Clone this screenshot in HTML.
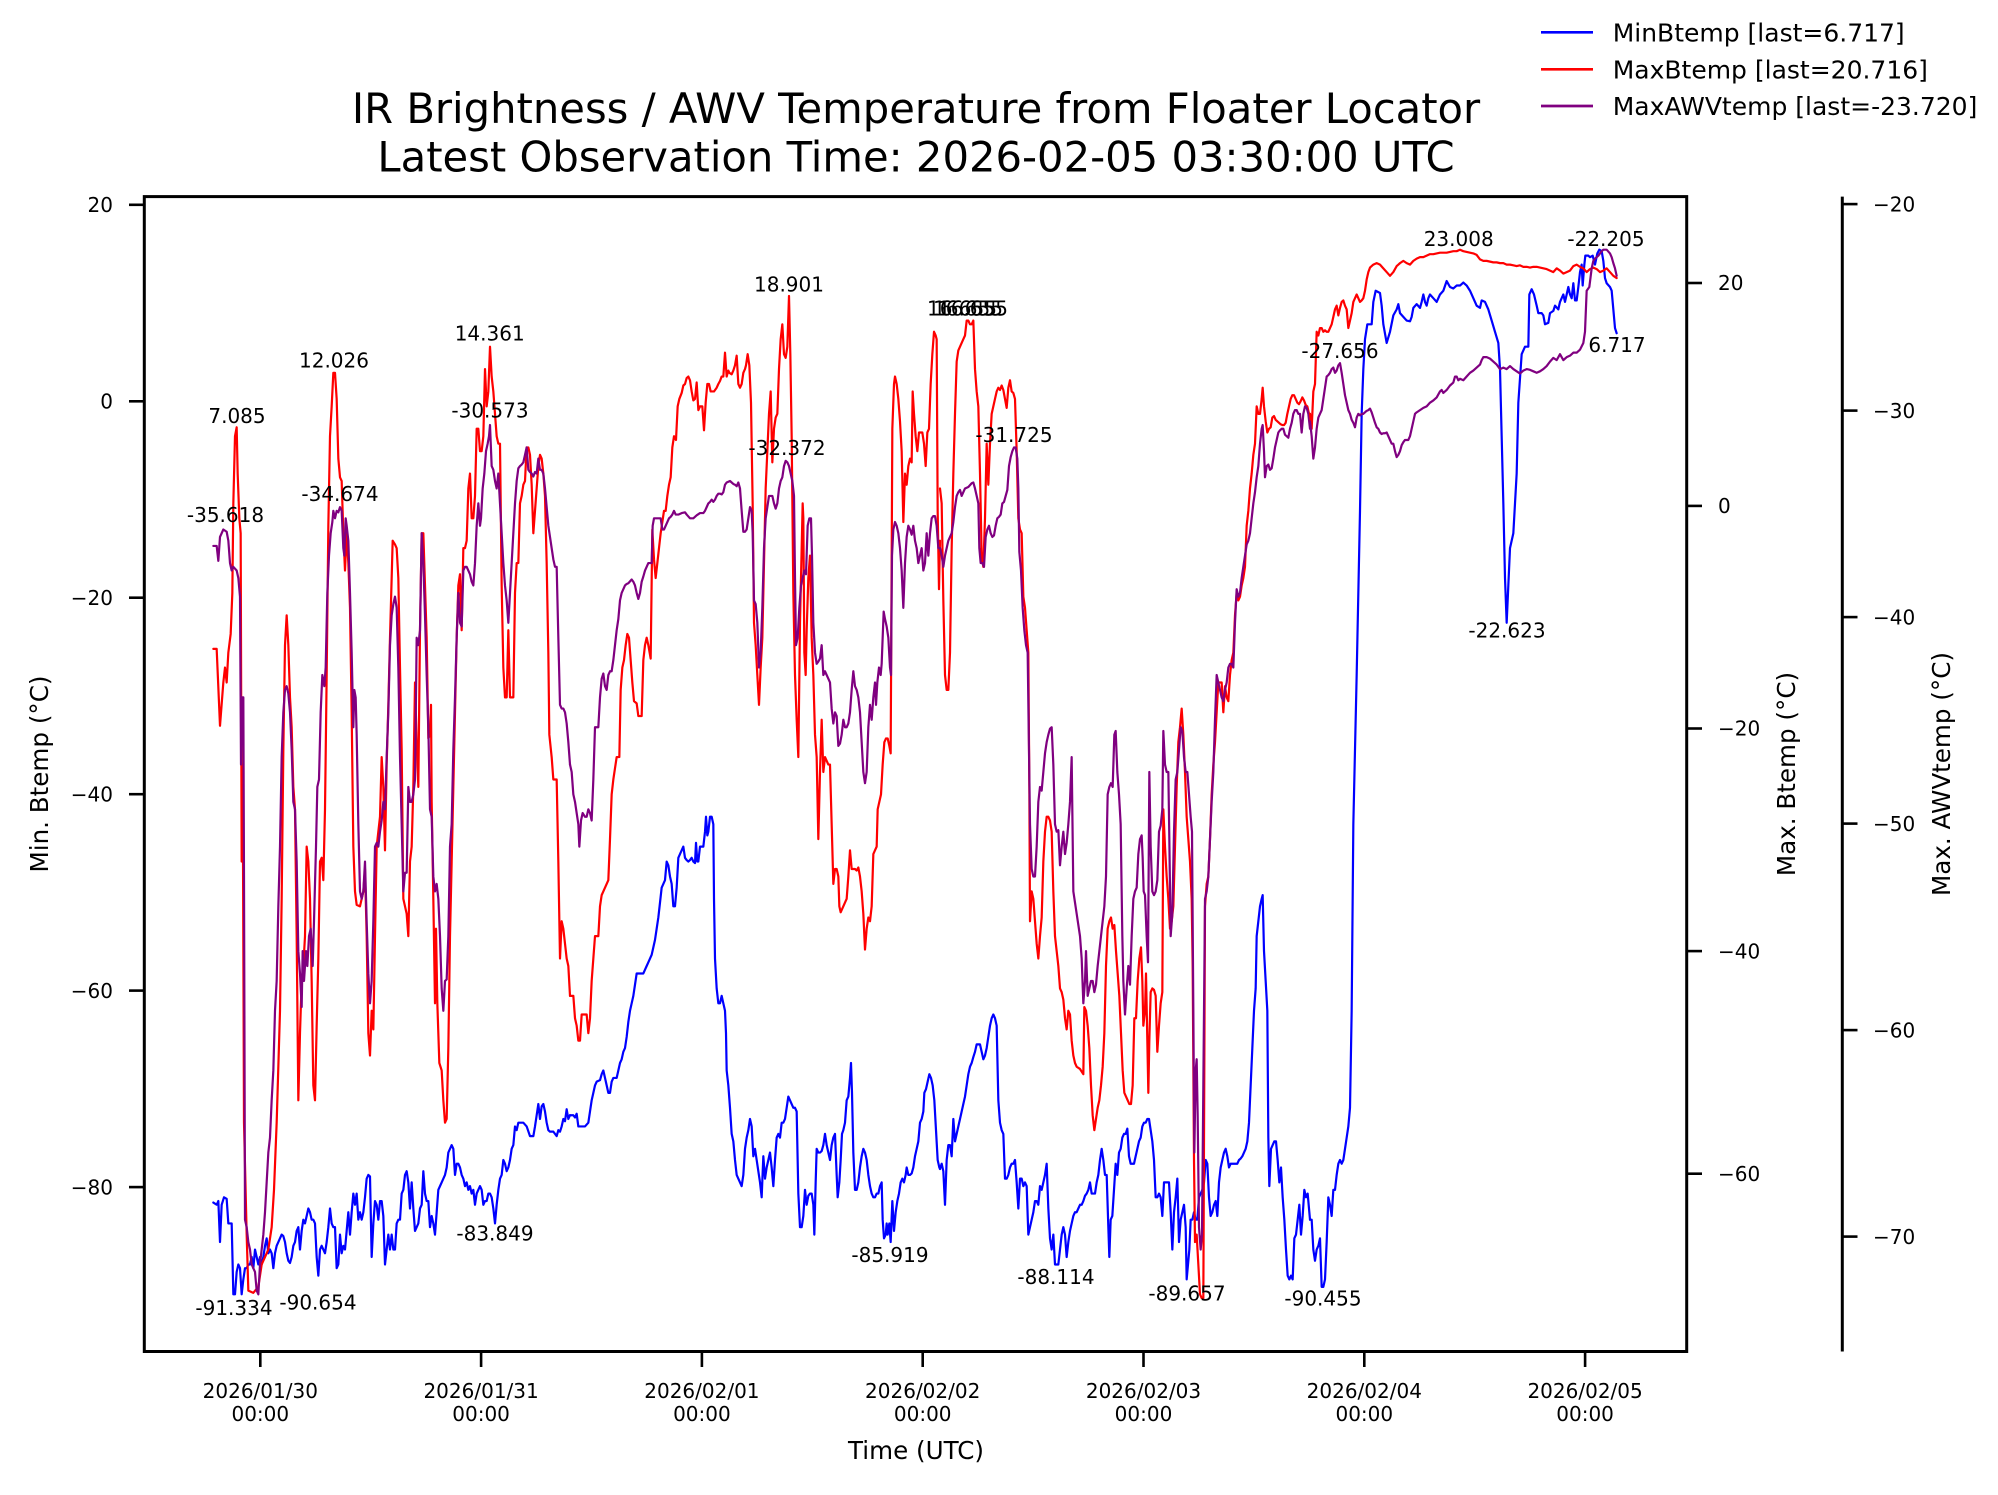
<!DOCTYPE html>
<html><head><meta charset="utf-8"><style>
html,body{margin:0;padding:0;background:#fff;}
svg{display:block;}
text{font-family:"DejaVu Sans","Liberation Sans",sans-serif;fill:#000;}
.ln{fill:none;stroke-width:2.2;stroke-linejoin:round;stroke-linecap:round;}
</style></head><body>
<svg width="1998" height="1495" viewBox="0 0 1998 1495" xmlns="http://www.w3.org/2000/svg">
<rect x="0" y="0" width="1998" height="1495" fill="#fff"/>

<!-- Title -->
<text x="916" y="123" font-size="41.7" text-anchor="middle">IR Brightness / AWV Temperature from Floater Locator</text>
<text x="916" y="171.5" font-size="41.7" text-anchor="middle">Latest Observation Time: 2026-02-05 03:30:00 UTC</text>

<!-- Legend -->
<line x1="1541" y1="32.3" x2="1593" y2="32.3" stroke="#0000ff" stroke-width="2.7"/>
<line x1="1541" y1="69.3" x2="1593" y2="69.3" stroke="#ff0000" stroke-width="2.7"/>
<line x1="1541" y1="106" x2="1593" y2="106" stroke="#800080" stroke-width="2.7"/>
<text x="1612.7" y="41.5" font-size="25">MinBtemp [last=6.717]</text>
<text x="1612.7" y="78.5" font-size="25">MaxBtemp [last=20.716]</text>
<text x="1612.7" y="115.2" font-size="25">MaxAWVtemp [last=-23.720]</text>

<!-- Data lines -->
<g class="series">
<g transform="translate(200,190) scale(0.333333,0.746157)">
<polyline class="ln" vector-effect="non-scaling-stroke" stroke="#0000ff" points="40,1357 50,1360 55,1355 60,1410 65,1360 72,1350 80,1352 85,1385 90,1385 95,1385 100,1480 105,1480 110,1450 115,1440 120,1445 125,1480 130,1460 135,1445 140,1445 145,1440 150,1440 155,1430 160,1445 165,1420 170,1430 175,1440 180,1430 185,1440 190,1430 195,1415 200,1405 205,1425 210,1420 215,1425 220,1445 225,1425 230,1415 235,1410 240,1405 245,1400 250,1402 255,1410 260,1425 265,1435 270,1438 275,1430 280,1415 285,1410 290,1395 295,1390 300,1420 305,1395 310,1380 315,1385 320,1375 325,1365 330,1370 335,1380 340,1380 345,1385 350,1430 355,1455 360,1420 365,1415 370,1420 375,1425 380,1410 385,1390 390,1365 395,1385 400,1390 405,1390 410,1445 415,1440 420,1400 425,1425 430,1415 435,1420 440,1395 445,1370 450,1400 455,1370 460,1345 465,1360 470,1345 475,1380 480,1370 485,1380 490,1370 495,1350 500,1325 505,1320 510,1322 515,1430 520,1385 525,1355 530,1360 535,1380 540,1355 545,1355 550,1375 555,1440 560,1420 565,1400 570,1420 575,1400 580,1420 585,1420 590,1385 595,1380 600,1380 605,1345 610,1340 615,1320 620,1315 625,1330 630,1365 635,1330 640,1365 645,1395 650,1390 655,1385 660,1365 665,1360 670,1315 675,1345 680,1355 685,1355 690,1390 695,1375 700,1385 705,1400 710,1370 715,1340 720,1335 725,1330 730,1325 735,1320 740,1310 745,1290 750,1285 755,1280 760,1285 765,1320 770,1305 775,1305 780,1310 785,1320 790,1325 795,1335 800,1330 805,1340 810,1335 815,1345 820,1340 825,1360 830,1345 835,1340 840,1335 845,1340 850,1360 855,1355 860,1355 865,1345 870,1345 875,1350 880,1365 885,1385 890,1360 895,1340 900,1325 905,1320 910,1300 915,1305 920,1315 925,1310 930,1300 935,1285 940,1280 945,1255 950,1260 955,1250 960,1250 970,1250 980,1255 990,1268 1000,1268 1005,1255 1010,1240 1015,1225 1020,1245 1025,1228 1030,1225 1035,1235 1040,1250 1045,1260 1050,1262 1060,1262 1065,1265 1070,1268 1075,1260 1080,1262 1085,1255 1090,1245 1095,1248 1100,1232 1105,1245 1110,1240"/>
<polyline class="ln" vector-effect="non-scaling-stroke" stroke="#ff0000" points="40,615 50,615 60,718 70,660 75,640 80,660 85,620 92,595 97,540 100,420 105,330 110,318 113,380 118,440 122,460 125,900 128,770 132,1250 140,1400 145,1475 160,1478 175,1470 185,1440 195,1430 205,1420 215,1390 222,1340 230,1250 240,1100 245,950 250,750 255,610 260,570 265,610 270,680 275,720 280,800 285,830 290,1000 295,1220 300,1130 305,1060 310,1040 315,1000 320,880 325,900 330,950 335,1060 340,1200 345,1220 350,1120 355,1030 360,900 365,895 370,925 375,830 380,650 385,450 390,330 395,290 400,245 405,245 410,280 415,360 420,385 425,390 430,460 435,510 440,460 445,500 450,560 455,700 460,880 465,940 470,958 480,960 490,940 495,910 500,1000 505,1130 510,1160 515,1100 520,1125 525,1000 530,880 540,840 545,760 550,800 555,885 560,770 565,690 570,600 575,520 578,470 585,475 590,480 595,520 600,640 605,750 610,950 615,960 620,970 625,1000 630,900 635,880 640,800 645,660 650,740 655,800 660,590 665,460 670,460 675,530 680,600 685,735 690,730 693,690 695,820 700,950 705,1090 708,990 712,1090 718,1170 725,1180 730,1220 735,1250 740,1245 745,1150 750,1000 755,900 760,800 765,700 770,600 775,530 780,515 785,590 790,480 795,480 800,470 805,400 810,380 815,440 820,440 825,410 830,320 835,320 840,350 845,350 850,330 855,240 860,290 865,270 870,210 875,250 880,270 885,300 890,330 895,340 900,340 905,530 910,640 915,680 920,680 925,590 930,680 935,680 940,680 945,540 950,500 955,500 960,420 965,410 970,395 975,390 980,345 985,345 990,355 995,395 1000,460 1005,430 1010,400 1015,370 1020,355 1025,360 1030,380 1035,410 1040,500 1045,620 1048,730 1055,760 1060,790 1070,790 1075,900 1080,1030 1085,980 1090,990 1095,1010 1100,1030 1105,1040 1110,1080"/>
<polyline class="ln" vector-effect="non-scaling-stroke" stroke="#800080" points="40,477 50,477 55,497 60,465 70,455 80,458 85,470 90,500 95,510 100,505 110,510 115,520 120,545 123,770 126,680 130,680 132,920 135,1380 140,1390 145,1410 150,1420 155,1440 160,1445 165,1450 170,1475 175,1480 180,1440 185,1420 190,1400 195,1370 200,1330 205,1290 210,1270 215,1220 220,1180 225,1100 230,1060 235,960 240,880 245,760 250,700 255,670 260,665 265,675 270,700 275,750 280,820 285,830 290,900 295,1020 300,1050 305,1095 308,1020 312,1060 318,1020 322,1040 327,1000 332,990 338,1040 342,980 348,880 352,800 357,790 362,700 367,650 373,665 377,640 382,540 387,490 392,460 397,445 400,430 405,440 410,430 415,432 420,425 425,430 430,480 433,490 437,440 440,450 445,470 450,540 455,620 460,720 463,670 467,680 470,730 475,850 480,940 485,950 490,940 495,900 500,980 505,1050 510,1090 515,1060 520,980 525,880 530,875 535,880 540,860 545,845 550,820 555,830 560,760 565,700 570,610 575,570 580,555 585,545 590,560 595,640 600,760 605,850 610,940 615,915 620,915 625,800 630,820 635,820 640,810 645,790 650,600 655,610 660,590 665,460 670,500 675,570 680,650 685,720 690,830 695,840 700,920 705,940 710,930 715,950 720,1000 725,1070 730,1100 735,1060 740,1058 745,1000 750,880 755,850 760,750 765,680 770,600 775,540 780,580 785,585 790,510 795,505 800,505 805,510 810,515 815,525 820,530 825,500 830,450 835,420 840,450 843,440 848,400 853,380 858,350 863,340 867,330 870,315 875,370 880,375 885,390 890,400 895,380 900,420 905,460 910,500 915,530 920,550 925,580 930,540 935,500 940,460 945,420 950,390 955,373 960,370 965,368 970,365 975,355 980,345 985,375 990,378 995,380 1000,384 1005,378 1010,380 1015,360 1020,375 1025,375 1030,380 1035,400 1040,425 1045,450 1050,465 1055,480 1060,495 1065,505 1070,505 1075,600 1080,690 1085,695 1090,695 1095,700 1100,715 1105,740 1110,770"/>
</g>

<g transform="translate(570,190) scale(0.333333,0.746157)">
<polyline class="ln" vector-effect="non-scaling-stroke" stroke="#0000ff" points="0,1240 10,1240 15,1243 20,1238 25,1255 35,1255 45,1255 55,1250 60,1235 65,1220 70,1210 75,1200 80,1195 90,1193 95,1185 100,1180 105,1190 110,1200 115,1210 120,1210 125,1195 130,1190 140,1190 145,1180 150,1170 155,1165 160,1155 165,1150 170,1135 175,1115 180,1100 185,1090 190,1080 195,1065 200,1050 205,1050 215,1050 220,1050 225,1045 230,1040 235,1035 240,1030 245,1025 250,1015 255,1005 260,990 265,975 270,955 275,935 280,930 285,925 290,900 295,905 300,920 305,930 310,960 315,960 320,935 325,895 330,890 335,885 340,880 345,895 350,898 355,900 360,898 365,895 370,900 375,902 378,875 382,900 385,900 390,880 395,880 400,880 405,860 408,840 412,865 415,860 420,840 425,840 430,850 432,950 435,1030 440,1070 445,1090 450,1090 455,1080 460,1090 465,1100 468,1130 470,1180 475,1200 480,1230 485,1265 490,1275 495,1300 500,1320 505,1325 510,1330 515,1335 520,1320 525,1285 530,1270 535,1260 540,1245 545,1255 550,1295 555,1285 560,1300 565,1315 570,1330 575,1350 580,1295 585,1325 590,1310 595,1300 600,1290 605,1310 610,1335 615,1300 620,1270 625,1265 630,1270 635,1250 640,1250 645,1245 650,1230 655,1215 660,1220 665,1225 670,1230 675,1230 680,1235 685,1345 690,1390 695,1390 700,1375 705,1340 710,1360 715,1348 720,1345 725,1345 730,1360 733,1400 737,1330 740,1285 745,1290 750,1290 755,1288 760,1280 765,1265 770,1280 775,1290 780,1300 785,1280 790,1270 795,1265 800,1320 803,1350 808,1330 812,1300 816,1265 820,1260 825,1250 830,1220 835,1215 840,1190 843,1170 846,1210 850,1290 855,1340 860,1340 865,1330 870,1310 875,1295 880,1285 885,1290 890,1300 895,1320 900,1335 905,1345 910,1350 915,1350 920,1345 925,1345 930,1335 935,1330 938,1380 942,1405 947,1400 950,1385 953,1400 958,1385 962,1410 967,1355 972,1395 977,1370 982,1355 987,1345 992,1330 997,1325 1002,1330 1007,1320 1010,1310 1015,1320 1020,1320 1025,1318 1030,1310 1035,1295 1040,1285 1045,1275 1050,1250 1055,1245 1060,1235 1063,1210 1068,1205 1073,1195 1078,1185 1083,1190 1088,1200 1093,1220 1098,1260 1103,1300 1108,1310 1110,1312"/>
<polyline class="ln" vector-effect="non-scaling-stroke" stroke="#ff0000" points="0,1080 5,1080 10,1080 15,1110 20,1120 25,1140 30,1140 35,1105 45,1105 50,1105 55,1130 60,1110 65,1060 70,1030 75,1000 85,1000 90,960 95,945 100,940 105,935 110,930 115,925 120,870 125,810 130,790 135,775 140,760 148,760 152,670 157,640 162,630 167,610 172,595 177,600 182,630 187,660 192,685 200,688 205,705 215,705 220,630 225,610 230,600 235,610 242,628 247,455 252,495 257,520 262,500 267,480 272,460 277,445 282,430 287,430 292,410 297,395 302,385 307,345 312,330 318,335 323,290 328,280 335,272 340,262 345,260 350,252 355,250 360,255 365,270 370,282 375,280 380,258 385,295 390,290 397,290 402,322 407,285 412,260 417,260 422,270 432,270 440,265 445,260 450,256 455,250 460,250 465,218 470,250 475,242 478,245 485,247 490,242 495,235 500,222 505,260 510,265 515,260 520,245 525,240 528,235 533,220 538,235 543,285 548,420 552,580 557,610 562,650 567,690 572,640 577,600 582,500 587,400 592,350 597,300 602,270 607,365 612,320 617,305 622,300 627,240 632,200 637,180 642,220 647,225 652,210 657,142 661,220 665,330 670,540 675,650 680,710 685,760 690,580 695,480 698,420 700,440 703,620 707,650 710,590 715,520 720,490 725,600 730,650 735,730 740,760 745,870 750,780 755,710 760,780 765,760 770,765 775,770 780,770 785,850 790,930 795,910 800,910 805,920 808,960 812,968 820,960 825,955 830,950 835,920 840,885 845,910 850,910 855,910 860,912 865,908 870,920 875,940 880,970 885,1018 890,990 895,975 900,980 905,960 910,890 915,885 920,880 923,830 928,820 933,810 938,770 943,740 948,735 953,735 958,745 962,755 967,320 972,260 975,250 980,260 985,280 990,310 995,350 1000,445 1005,380 1010,395 1015,370 1020,360 1025,365 1028,270 1032,300 1037,330 1042,350 1047,325 1052,325 1057,325 1062,340 1067,370 1072,325 1077,320 1082,260 1087,220 1092,190 1097,195 1100,200 1103,430 1107,535 1110,470"/>
<polyline class="ln" vector-effect="non-scaling-stroke" stroke="#800080" points="0,770 5,780 10,810 15,820 20,835 25,850 28,880 33,845 38,835 45,840 50,840 55,830 60,835 65,845 70,790 75,720 80,720 85,720 90,680 95,655 100,648 105,665 110,670 115,650 120,645 125,645 130,630 135,610 140,590 145,575 150,550 155,540 160,535 165,530 170,528 175,527 185,522 190,525 195,530 200,540 205,548 210,540 215,525 220,518 225,510 230,505 235,500 240,500 245,500 248,450 252,440 257,440 262,440 267,440 272,440 277,455 282,455 287,450 292,445 297,440 302,438 307,435 312,430 317,435 325,435 335,433 345,432 350,435 360,440 370,440 380,436 390,433 400,433 405,430 410,425 415,420 420,418 425,415 430,418 435,415 440,410 445,407 450,407 455,408 460,405 465,395 470,392 480,390 490,394 495,395 500,397 505,392 510,400 515,430 520,458 525,458 530,455 535,440 540,425 545,430 548,460 552,550 557,555 562,580 567,640 572,620 577,560 582,480 587,440 592,425 597,410 602,410 607,410 612,420 617,427 622,420 627,400 632,390 637,385 642,370 647,363 652,365 657,370 662,380 667,390 672,410 675,520 678,610 683,600 688,560 693,530 698,520 703,510 708,515 713,450 718,440 723,440 726,490 730,580 735,620 740,635 745,632 750,628 755,610 760,650 765,645 770,650 775,655 780,660 785,695 790,715 795,700 800,705 805,745 810,742 815,730 820,710 825,720 830,720 835,715 840,700 845,670 850,645 855,665 860,670 865,680 870,700 875,740 880,780 885,795 890,780 895,720 900,690 905,710 910,680 915,660 918,690 922,660 927,640 932,650 935,635 938,600 941,565 945,575 950,585 955,600 960,640 963,650 966,490 970,455 975,445 980,450 985,460 990,480 995,510 1000,560 1005,500 1010,465 1015,450 1020,455 1025,462 1030,450 1035,470 1040,480 1045,500 1050,490 1055,480 1060,510 1065,500 1070,460 1075,490 1080,460 1085,440 1090,437 1095,437 1100,450 1105,480 1110,480"/>
</g>

<g transform="translate(940,190) scale(0.333333,0.746157)">
<polyline class="ln" vector-effect="non-scaling-stroke" stroke="#0000ff" points="0,1312 5,1305 10,1315 15,1360 20,1300 25,1280 30,1280 35,1295 40,1245 45,1275 50,1265 55,1255 60,1245 65,1235 70,1225 75,1215 80,1200 85,1185 90,1175 95,1170 100,1162 105,1155 110,1145 115,1145 120,1145 125,1155 130,1165 135,1160 140,1150 145,1135 150,1120 155,1110 160,1105 165,1110 170,1120 175,1220 180,1250 185,1260 190,1265 195,1325 200,1325 205,1320 210,1310 215,1305 220,1305 225,1300 230,1330 235,1365 240,1325 245,1325 250,1335 255,1330 260,1335 265,1400 270,1390 275,1380 280,1370 285,1355 290,1355 295,1360 300,1335 305,1340 310,1330 315,1320 320,1305 325,1365 330,1405 335,1420 340,1400 345,1440 350,1440 355,1440 360,1420 365,1400 370,1390 375,1400 380,1430 385,1410 390,1395 395,1385 400,1375 405,1370 410,1370 415,1365 420,1360 425,1360 430,1355 435,1348 440,1345 445,1340 450,1330 455,1345 460,1345 465,1345 470,1330 475,1320 480,1300 485,1285 490,1300 495,1320 500,1320 505,1390 508,1430 512,1380 517,1375 522,1340 527,1305 532,1320 537,1290 542,1285 547,1270 552,1265 557,1265 562,1258 567,1295 572,1305 577,1305 582,1305 587,1295 592,1285 597,1275 602,1270 607,1255 612,1250 617,1250 622,1245 627,1245 632,1260 637,1275 642,1300 647,1350 652,1350 657,1345 662,1350 667,1375 672,1330 677,1330 682,1330 687,1330 692,1370 697,1420 702,1370 707,1350 712,1325 717,1410 722,1380 727,1370 732,1360 737,1390 740,1460 744,1440 748,1420 752,1380 757,1380 762,1370 767,1380 772,1380 777,1350 782,1345 787,1340 792,1330 797,1300 802,1305 807,1350 812,1375 817,1370 822,1360 827,1355 832,1375 837,1330 842,1310 847,1300 852,1290 857,1285 862,1295 867,1310 872,1305 877,1305 882,1305 887,1305 892,1305 897,1300 902,1298 907,1295 912,1290 917,1285 922,1275 927,1250 932,1200 937,1150 942,1100 947,1070 950,1000 955,980 960,960 965,950 968,945 972,1020 977,1060 982,1100 985,1270 988,1335 993,1285 998,1280 1003,1275 1008,1275 1013,1300 1018,1330 1023,1310 1028,1350 1033,1380 1038,1420 1043,1455 1048,1460 1053,1455 1058,1460 1063,1405 1068,1400 1073,1380 1078,1360 1083,1400 1088,1375 1093,1340 1098,1350 1103,1345 1108,1370 1110,1380"/>
<polyline class="ln" vector-effect="non-scaling-stroke" stroke="#ff0000" points="0,400 5,420 10,550 15,650 20,670 25,670 30,620 35,480 40,380 45,300 50,230 55,215 60,210 65,205 70,200 75,195 80,175 85,175 90,180 95,180 100,175 105,240 110,270 115,290 120,380 125,490 130,505 135,440 140,340 145,395 150,340 155,300 160,290 165,280 170,270 175,265 180,268 185,262 190,268 195,280 200,292 205,265 210,255 215,270 220,272 225,280 230,350 235,440 240,455 245,460 250,545 255,560 260,590 265,620 268,800 270,980 275,940 280,950 285,980 290,1010 295,1030 300,1000 305,975 310,900 315,860 320,840 325,840 330,845 335,860 340,940 345,1000 350,1020 355,1040 360,1070 365,1075 370,1085 375,1110 380,1125 385,1100 390,1105 395,1140 400,1160 405,1170 410,1175 420,1178 430,1185 433,1095 438,1100 443,1120 448,1150 453,1200 458,1240 463,1260 468,1245 473,1230 478,1220 483,1200 488,1175 493,1130 498,1040 503,990 508,980 513,975 518,990 523,985 528,1020 533,1050 538,1080 543,1130 548,1180 553,1210 558,1215 563,1220 568,1225 573,1225 578,1200 583,1110 588,1110 593,1060 598,1030 603,1015 607,1060 610,1120 615,1100 618,1050 622,1140 625,1210 628,1140 632,1075 637,1070 642,1072 647,1080 652,1155 657,1120 662,1090 667,1075 670,830 675,880 680,920 685,950 690,990 695,980 700,960 705,880 710,800 715,740 720,720 725,695 730,730 735,780 740,840 745,870 750,900 755,950 758,1040 762,1300 765,1410 770,1400 775,1440 780,1480 785,1485 790,1485 795,960 800,930 805,920 810,870 815,810 820,770 825,740 830,700 835,660 840,660 845,660 850,700 855,665 860,680 865,685 870,650 875,630 880,620 885,570 890,540 895,550 900,545 905,530 910,520 915,505 920,450 925,430 930,400 935,380 940,355 945,340 950,290 955,300 960,300 965,280 968,265 972,290 977,310 982,325 987,320 992,318 997,305 1002,303 1007,308 1012,310 1017,312 1022,314 1027,315 1032,315 1037,312 1042,300 1047,290 1052,280 1057,275 1062,275 1067,280 1072,285 1077,287 1082,283 1087,278 1092,282 1097,288 1102,290 1107,300 1110,300"/>
<polyline class="ln" vector-effect="non-scaling-stroke" stroke="#800080" points="0,480 5,490 10,505 15,490 20,480 25,470 30,465 35,460 40,445 45,425 50,410 55,405 60,402 65,410 70,405 75,400 85,398 95,393 100,392 105,400 110,410 115,420 118,480 122,500 127,500 132,505 137,465 142,455 147,450 152,460 157,465 162,463 167,450 172,440 177,438 182,435 187,420 192,418 197,410 202,402 207,370 212,358 217,350 222,345 227,345 232,360 235,400 238,485 243,510 248,560 253,590 258,610 263,620 266,720 270,850 275,910 280,920 285,920 290,880 295,820 300,800 305,805 310,780 315,755 320,740 325,730 330,722 335,720 340,770 345,850 350,860 355,858 360,905 365,880 370,860 375,890 380,875 385,850 390,820 395,760 400,940 405,955 410,970 415,985 420,1000 425,1030 430,1090 435,1060 438,1020 443,1080 448,1070 453,1060 458,1060 463,1075 468,1065 473,1040 478,1020 483,1000 488,980 493,960 498,920 503,810 508,800 513,795 518,800 523,730 527,725 532,780 537,810 542,850 547,1000 550,1060 555,1105 560,1070 565,1040 570,1065 575,1000 580,950 585,940 590,935 595,890 600,870 605,865 608,895 611,940 615,945 620,1000 624,1035 628,780 632,880 637,940 642,945 647,940 652,925 657,860 662,852 667,830 670,725 675,770 680,780 685,780 688,870 692,1000 697,970 702,860 707,790 712,780 717,750 722,720 727,725 732,760 737,780 742,780 747,810 752,840 756,860 760,1100 763,1290 767,1180 770,1165 773,1240 777,1390 782,1420 786,1400 790,1200 795,950 800,940 805,920 810,870 815,820 820,780 825,710 830,650 835,660 840,670 845,680 850,685 855,670 860,660 865,640 870,635 875,635 880,640 885,580 890,535 895,545 900,540 905,520 910,505 915,490 920,475 925,470 930,460 935,440 940,420 945,405 950,385 955,370 960,340 965,320 968,315 972,350 975,385 980,370 985,368 990,375 995,373 1000,360 1005,345 1010,335 1015,325 1020,322 1025,320 1030,320 1035,328 1040,330 1045,332 1050,320 1055,312 1060,300 1065,295 1070,295 1075,300 1080,300 1085,325 1090,300 1095,290 1100,292 1105,300 1110,320"/>
</g>

<g transform="translate(1310,190) scale(0.333333,0.746157)">
<polyline class="ln" vector-effect="non-scaling-stroke" stroke="#0000ff" points="0,1380 5,1380 10,1420 15,1435 20,1420 25,1415 30,1405 35,1470 40,1470 45,1460 50,1410 55,1350 60,1360 65,1375 70,1340 75,1340 80,1320 85,1305 90,1300 95,1305 100,1300 105,1285 110,1270 115,1255 120,1230 125,1100 130,850 140,650 150,430 155,300 160,240 165,200 172,180 185,180 190,150 197,135 210,138 215,155 220,180 230,205 240,190 250,168 260,160 265,153 270,165 280,170 290,175 300,176 305,170 310,158 320,153 330,158 335,150 340,140 345,150 350,155 355,145 360,140 370,145 380,150 390,140 400,135 410,122 420,130 430,132 440,128 450,128 460,124 470,128 480,135 490,145 500,155 510,158 515,148 525,150 535,160 545,175 555,190 565,205 570,240 575,330 580,420 585,520 590,580 595,530 600,480 610,460 615,420 620,380 625,285 635,220 645,210 655,210 658,140 665,133 672,140 680,155 685,165 695,165 700,168 705,180 715,178 720,165 730,162 735,155 745,160 750,150 760,140 765,150 770,140 775,130 780,140 785,145 790,125 795,148 800,148 805,130 810,110 815,100 818,128 823,100 826,88 835,88 840,90 848,88 855,100 862,85 868,80 875,82 880,95 885,118 890,125 900,130 905,135 910,160 915,185 920,192"/>
<polyline class="ln" vector-effect="non-scaling-stroke" stroke="#ff0000" points="0,300 5,320 10,270 15,260 20,190 25,195 30,185 35,185 40,190 45,188 50,190 55,190 60,185 65,180 70,170 75,160 80,155 85,168 90,158 95,150 100,148 105,155 110,160 115,185 120,175 125,165 130,150 135,145 140,140 145,145 150,150 155,148 160,145 165,135 170,120 175,110 180,104 190,100 200,98 210,100 220,105 230,110 240,115 250,110 260,102 270,98 280,95 290,98 300,100 310,95 320,92 330,90 340,90 350,88 360,86 370,86 380,85 390,84 400,84 410,84 420,83 430,82 440,82 450,80 460,82 470,83 480,84 490,85 500,87 510,93 520,95 530,95 540,96 550,97 560,97 570,98 580,98 590,100 600,100 610,101 620,102 630,101 640,103 650,103 660,104 670,103 680,103 690,104 700,105 710,106 720,108 730,110 740,105 750,108 760,112 770,110 780,108 790,102 800,100 810,103 820,105 830,110 840,106 850,104 860,106 870,110 880,108 890,105 900,110 910,115 920,118"/>
<polyline class="ln" vector-effect="non-scaling-stroke" stroke="#800080" points="0,310 5,330 10,360 15,345 20,320 25,305 30,300 35,295 40,280 45,265 50,250 55,248 60,245 65,240 70,238 75,245 80,242 85,235 90,232 95,245 100,260 105,275 110,285 115,295 120,300 125,308 130,312 135,318 140,305 145,300 150,302 155,300 160,300 165,298 170,296 175,295 180,293 185,298 190,305 195,312 200,318 205,320 210,325 215,327 220,326 225,326 230,325 235,330 240,335 245,340 250,340 255,350 260,358 265,355 270,350 275,342 280,338 285,335 290,335 295,335 300,330 305,320 310,310 315,300 320,298 330,295 340,292 350,290 360,285 370,282 380,278 390,270 395,268 400,272 410,268 420,262 430,258 435,250 440,250 445,255 450,253 460,255 470,250 480,245 490,242 500,238 510,234 515,228 520,224 530,224 540,226 550,230 560,234 570,240 580,238 590,240 600,236 610,240 620,243 630,246 640,242 650,240 660,241 670,243 680,245 690,243 700,240 710,236 720,230 730,225 740,228 750,220 760,228 770,224 780,222 790,218 800,218 810,214 820,205 825,190 830,135 838,130 845,105 850,95 855,92 860,90 865,88 870,85 875,82 880,80 890,80 900,85 905,90 910,98 915,105 920,115"/>
</g>
</g>

<!-- Annotations -->
<g font-size="20" text-anchor="middle">
<text x="237" y="422.8">7.085</text>
<text x="225.5" y="522">-35.618</text>
<text x="334" y="367.6">12.026</text>
<text x="340" y="501">-34.674</text>
<text x="489.7" y="340.7">14.361</text>
<text x="490" y="417.6">-30.573</text>
<text x="234" y="1315.2">-91.334</text>
<text x="318" y="1309.3">-90.654</text>
<text x="495" y="1240.6">-83.849</text>
<text x="789" y="291.5">18.901</text>
<text x="787" y="454.9">-32.372</text>
<text x="890" y="1262">-85.919</text>
<text x="962" y="315.4">16.655</text>
<text x="968" y="315.4">16.655</text>
<text x="973" y="315.4">16.655</text>
<text x="1014" y="442.2">-31.725</text>
<text x="1056" y="1283.9">-88.114</text>
<text x="1187" y="1300.3">-89.657</text>
<text x="1340" y="357.9">-27.656</text>
<text x="1458.7" y="246">23.008</text>
<text x="1606" y="246">-22.205</text>
<text x="1617" y="352">6.717</text>
<text x="1507" y="637.7">-22.623</text>
<text x="1323" y="1305.5">-90.455</text>
</g>

<!-- Axes frame -->
<rect x="144.3" y="196.6" width="1542.4" height="1154.9" fill="none" stroke="#000" stroke-width="3"/>
<line x1="1842.3" y1="196.6" x2="1842.3" y2="1351.5" stroke="#000" stroke-width="3"/>

<g stroke="#000" stroke-width="2.6">
<line x1="129" y1="204.8" x2="144" y2="204.8"/>
<line x1="129" y1="401.3" x2="144" y2="401.3"/>
<line x1="129" y1="597.7" x2="144" y2="597.7"/>
<line x1="129" y1="794.2" x2="144" y2="794.2"/>
<line x1="129" y1="990.6" x2="144" y2="990.6"/>
<line x1="129" y1="1187.1" x2="144" y2="1187.1"/>
<line x1="1687" y1="283" x2="1702" y2="283"/>
<line x1="1687" y1="505.9" x2="1702" y2="505.9"/>
<line x1="1687" y1="728.5" x2="1702" y2="728.5"/>
<line x1="1687" y1="951.1" x2="1702" y2="951.1"/>
<line x1="1687" y1="1173.7" x2="1702" y2="1173.7"/>
<line x1="1843" y1="204.1" x2="1857.5" y2="204.1"/>
<line x1="1843" y1="410.6" x2="1857.5" y2="410.6"/>
<line x1="1843" y1="617.1" x2="1857.5" y2="617.1"/>
<line x1="1843" y1="823.6" x2="1857.5" y2="823.6"/>
<line x1="1843" y1="1030.1" x2="1857.5" y2="1030.1"/>
<line x1="1843" y1="1236.6" x2="1857.5" y2="1236.6"/>
<line x1="260.3" y1="1352" x2="260.3" y2="1367"/>
<line x1="481.1" y1="1352" x2="481.1" y2="1367"/>
<line x1="701.9" y1="1352" x2="701.9" y2="1367"/>
<line x1="922.7" y1="1352" x2="922.7" y2="1367"/>
<line x1="1143.5" y1="1352" x2="1143.5" y2="1367"/>
<line x1="1364.3" y1="1352" x2="1364.3" y2="1367"/>
<line x1="1585.1" y1="1352" x2="1585.1" y2="1367"/>
</g>

<g font-size="20" text-anchor="end">
<text x="113" y="212">20</text>
<text x="113" y="408.5">0</text>
<text x="113" y="605">−20</text>
<text x="113" y="801.5">−40</text>
<text x="113" y="998">−60</text>
<text x="113" y="1194.5">−80</text>
</g>
<g font-size="20" text-anchor="start">
<text x="1718" y="290.2">20</text>
<text x="1718" y="513.1">0</text>
<text x="1718" y="735.7">−20</text>
<text x="1718" y="958.3">−40</text>
<text x="1718" y="1180.9">−60</text>
<text x="1873" y="211.3">−20</text>
<text x="1873" y="417.8">−30</text>
<text x="1873" y="624.3">−40</text>
<text x="1873" y="830.8">−50</text>
<text x="1873" y="1037.3">−60</text>
<text x="1873" y="1243.8">−70</text>
</g>

<g font-size="20" text-anchor="middle">
<text x="260.3" y="1398">2026/01/30</text><text x="260.3" y="1421">00:00</text>
<text x="481.1" y="1398">2026/01/31</text><text x="481.1" y="1421">00:00</text>
<text x="701.9" y="1398">2026/02/01</text><text x="701.9" y="1421">00:00</text>
<text x="922.7" y="1398">2026/02/02</text><text x="922.7" y="1421">00:00</text>
<text x="1143.5" y="1398">2026/02/03</text><text x="1143.5" y="1421">00:00</text>
<text x="1364.3" y="1398">2026/02/04</text><text x="1364.3" y="1421">00:00</text>
<text x="1585.1" y="1398">2026/02/05</text><text x="1585.1" y="1421">00:00</text>
</g>

<text x="916" y="1459" font-size="24.6" text-anchor="middle">Time (UTC)</text>
<text transform="translate(48,774) rotate(-90)" font-size="24.6" text-anchor="middle">Min. Btemp (°C)</text>
<text transform="translate(1795,774) rotate(-90)" font-size="24.6" text-anchor="middle">Max. Btemp (°C)</text>
<text transform="translate(1950,774) rotate(-90)" font-size="24.6" text-anchor="middle">Max. AWVtemp (°C)</text>
</svg>
</body></html>
